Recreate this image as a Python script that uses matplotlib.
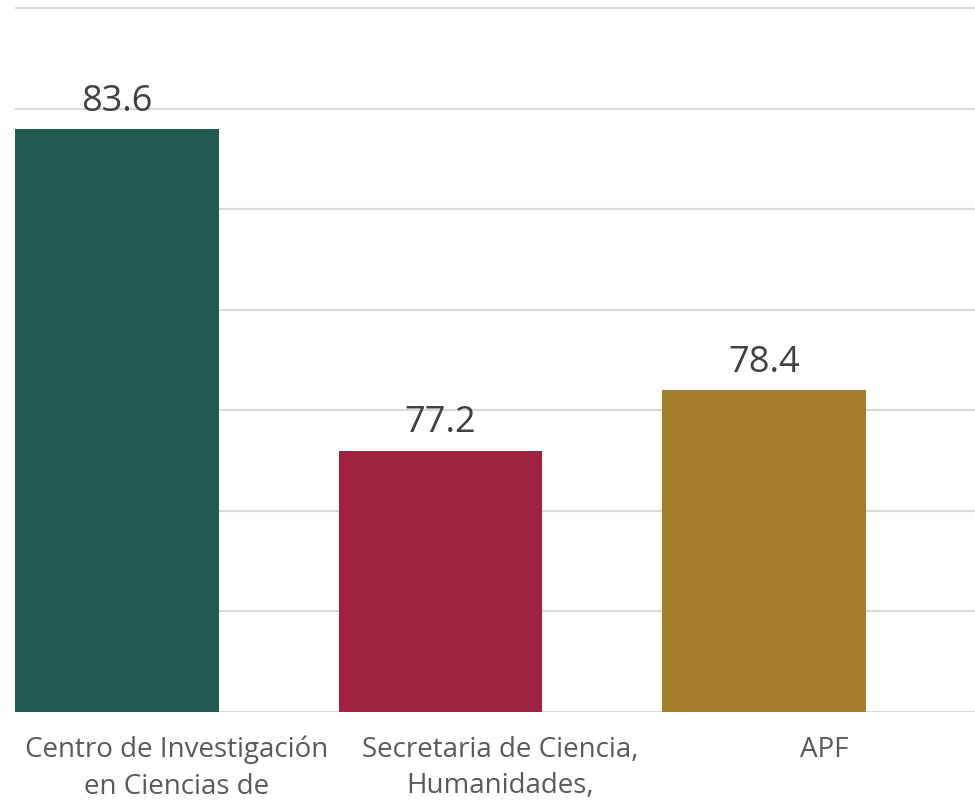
# bar chart: three institutions, value labels above bars
import matplotlib
matplotlib.use("Agg")
import matplotlib.pyplot as plt
import numpy as np

# data
categories = ["Centro de Investigación\nen Ciencias de",
              "Secretaria de Ciencia,\nHumanidades,",
              "APF"]
values = [83.6, 77.2, 78.4]
colors = ["#1F5B4F", "#9F2241", "#A67F2D"]
yticks = [72, 74, 76, 78, 80, 82, 84, 86]

plt.rcParams['font.family'] = ['Open Sans', 'DejaVu Sans']

fig = plt.figure(figsize=(9.75, 8.02), dpi=100)
# axes run a little past the right edge, like the cropped original
ax = fig.add_axes([15 / 975, 90 / 802, 970.5 / 975, 712 / 802])

x = np.arange(len(categories))
bar_w = 0.63
bars = ax.bar(x, values, width=bar_w, align='edge', color=colors, zorder=3)

# value labels
for b, v in zip(bars, values):
    ax.annotate(f"{v:.1f}", (b.get_x() + b.get_width() / 2, v),
                xytext=(0, 13), textcoords='offset points',
                ha='center', va='baseline', fontsize=26, color='#404040')

ax.set_xlim(0, len(categories))
ax.set_ylim(72, 86.16)
ax.set_yticks(yticks)
ax.set_yticklabels([])
ax.tick_params(axis='y', length=0)
ax.grid(axis='y', color='#D9D9D9', linewidth=1.5, zorder=0)

ax.set_xticks(x + 0.5)
ax.set_xticklabels(categories, fontsize=20, color='#595959', linespacing=1.42)
ax.tick_params(axis='x', length=0, pad=17)

for s in ax.spines.values():
    s.set_visible(False)

fig.savefig("out.png", dpi=100)
